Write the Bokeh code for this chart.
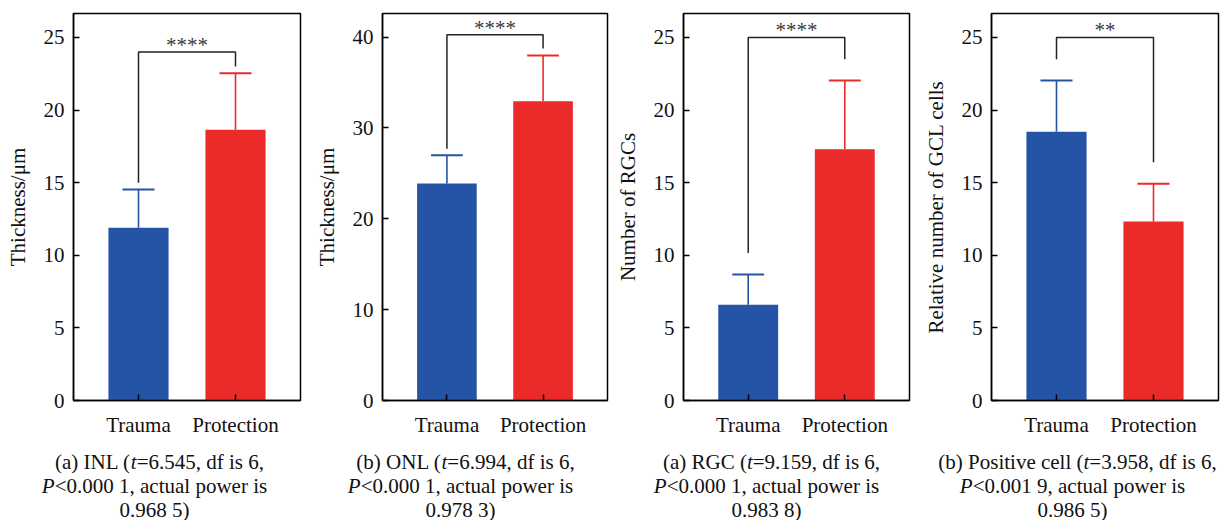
from bokeh.plotting import figure
from bokeh.models import FixedTicker, Range1d, Label
from bokeh.layouts import row, column
from bokeh.core.properties import value
from bokeh.embed import file_html
from bokeh.resources import INLINE

# ---------------- data ----------------
categories = ["Trauma", "Protection"]

inl_mean = [11.9, 18.65]
inl_sd = [2.63, 3.89]
onl_mean = [23.9, 32.95]
onl_sd = [3.10, 5.03]
rgc_mean = [6.6, 17.3]
rgc_sd = [2.08, 4.74]
gcl_mean = [18.5, 12.33]
gcl_sd = [3.54, 2.59]

# significance brackets: (bracket level, left leg end, right leg end, stars)
inl_sig = (24.0, 15.0, 23.0, "****")
onl_sig = (40.25, 27.7, 38.75, "****")
rgc_sig = (25.0, 10.15, 23.5, "****")
gcl_sig = (25.0, 23.5, 16.4, "**")

y_labels = ["Thickness/\u03bcm", "Thickness/\u03bcm", "Number of RGCs", "Relative number of GCL cells"]
y_max = [26.65, 42.6, 26.65, 26.65]
y_ticks = [[0, 5, 10, 15, 20, 25], [0, 10, 20, 30, 40], [0, 5, 10, 15, 20, 25], [0, 5, 10, 15, 20, 25]]

captions = [
    [[("(a) INL (", False), ("t", True), ("=6.545, df is 6,", False)],
     [("P", True), ("<0.000 1, actual power is", False)],
     [("0.968 5)", False)]],
    [[("(b) ONL (", False), ("t", True), ("=6.994, df is 6,", False)],
     [("P", True), ("<0.000 1, actual power is", False)],
     [("0.978 3)", False)]],
    [[("(a) RGC (", False), ("t", True), ("=9.159, df is 6,", False)],
     [("P", True), ("<0.000 1, actual power is", False)],
     [("0.983 8)", False)]],
    [[("(b) Positive cell (", False), ("t", True), ("=3.958, df is 6,", False)],
     [("P", True), ("<0.001 9, actual power is", False)],
     [("0.986 5)", False)]],
]

# ---------------- style ----------------
FONT = "Liberation Serif"
FS = 21
BLUE = "#2554A7"
RED = "#EB2A2A"
colors = [BLUE, RED]

# Times advance widths (per 1000 em) for caption layout
W = {" ": 250, "(": 333, ")": 333, ",": 250, ".": 250, "/": 278, "<": 564, "=": 564,
     "a": 444, "b": 500, "c": 444, "d": 500, "e": 444, "f": 333, "g": 500, "h": 500,
     "i": 278, "k": 500, "l": 278, "m": 778, "n": 500, "o": 500, "p": 500, "r": 333,
     "s": 389, "t": 278, "u": 500, "v": 500, "w": 722, "y": 500,
     "A": 722, "C": 667, "G": 722, "I": 333, "L": 611, "N": 722, "O": 722, "P": 556,
     "R": 667, "T": 611}
WI = {"t": 278, "P": 611}


def seg_width(s, italic):
    tot = 0
    for ch in s:
        if ch.isdigit():
            tot += 500
        elif italic and ch in WI:
            tot += WI[ch]
        else:
            tot += W.get(ch, 500)
    return tot * FS / 1000.0


borders = [(73, 6), (76, 5), (70, 9), (73, 6)]
means = [inl_mean, onl_mean, rgc_mean, gcl_mean]
sds = [inl_sd, onl_sd, rgc_sd, gcl_sd]
sigs = [inl_sig, onl_sig, rgc_sig, gcl_sig]

x_pos = [1, 2]
FIG_W = 306
MAIN_H = 442
CAP_H = 78
TOTAL_W = 4 * FIG_W
CAP_CENTER = 154
CAP_BASELINES = [461, 485, 509]   # page y of caption baselines

mains = []
for k in range(4):
    bl, br = borders[k]
    p = figure(width=FIG_W, height=MAIN_H, output_backend="svg", toolbar_location=None,
               x_range=Range1d(0.33, 2.67), y_range=Range1d(0, y_max[k]),
               min_border_left=bl, min_border_right=br, min_border_top=13,
               min_border_bottom=MAIN_H - 400)
    p.grid.visible = False
    p.outline_line_color = "black"
    p.outline_line_width = 1.5
    p.outline_line_alpha = 1.0

    mu = means[k]
    sd = sds[k]
    top = [m + s for m, s in zip(mu, sd)]
    p.vbar(x=x_pos, top=mu, bottom=0, width=0.62, fill_color=colors, line_color=None)
    p.segment(x0=x_pos, y0=mu, x1=x_pos, y1=top, line_color=colors, line_width=1.6)
    p.segment(x0=[x - 0.165 for x in x_pos], y0=top, x1=[x + 0.165 for x in x_pos], y1=top,
              line_color=colors, line_width=2)

    lvl, l_end, r_end, stars = sigs[k]
    p.line(x=[1, 1, 2, 2], y=[l_end, lvl, lvl, r_end], line_color="#222222", line_width=1.5)
    p.text(x=[1.5], y=[lvl], text=[stars], text_align="center", text_baseline="alphabetic",
           text_font=value(FONT), text_font_size="21px", text_color="#3a3a3a", y_offset=-7)

    # axes
    p.xaxis.ticker = FixedTicker(ticks=x_pos)
    p.xaxis.major_label_overrides = {1: categories[0], 2: categories[1]}
    p.yaxis.ticker = FixedTicker(ticks=y_ticks[k])
    p.yaxis.axis_label = y_labels[k]
    for ax in (p.xaxis, p.yaxis):
        ax.axis_line_color = "black"
        ax.axis_line_width = 1.5
        ax.major_tick_line_color = "black"
        ax.major_tick_line_width = 1.5
        ax.major_tick_in = 6
        ax.major_tick_out = 0
        ax.minor_tick_line_color = None
        ax.major_label_text_font = FONT
        ax.major_label_text_font_size = "21px"
        ax.major_label_text_color = "#111111"
        ax.axis_label_text_font = FONT
        ax.axis_label_text_font_size = "21px"
        ax.axis_label_text_font_style = "normal"
        ax.axis_label_text_color = "#111111"
    p.xaxis.major_label_standoff = 12
    p.yaxis.major_label_standoff = 9
    p.yaxis.axis_label_standoff = 11
    mains.append(p)

# caption strip below all panels
c = figure(width=TOTAL_W, height=CAP_H, output_backend="svg", toolbar_location=None,
           x_range=Range1d(0, TOTAL_W), y_range=Range1d(0, CAP_H),
           min_border=0, min_border_left=0, min_border_right=0,
           min_border_top=0, min_border_bottom=0)
c.axis.visible = False
c.grid.visible = False
c.outline_line_color = None
for k in range(4):
    for li, line in enumerate(captions[k]):
        total = sum(seg_width(s, it) for s, it in line)
        x0 = k * FIG_W + CAP_CENTER - total / 2.0 + (5 if li == 0 else 0)
        ybase = (MAIN_H + CAP_H) - CAP_BASELINES[li]
        for s, it in line:
            c.add_layout(Label(x=x0, y=ybase, x_units="screen", y_units="screen",
                               text=s, text_font=FONT, text_font_size="21px",
                               text_font_style="italic" if it else "normal",
                               text_color="#111111", text_align="left", text_baseline="alphabetic"))
            x0 += seg_width(s, it)

layout = column(row(*mains, spacing=0), c, spacing=0)
open("out.html", "w").write(file_html(layout, INLINE))
